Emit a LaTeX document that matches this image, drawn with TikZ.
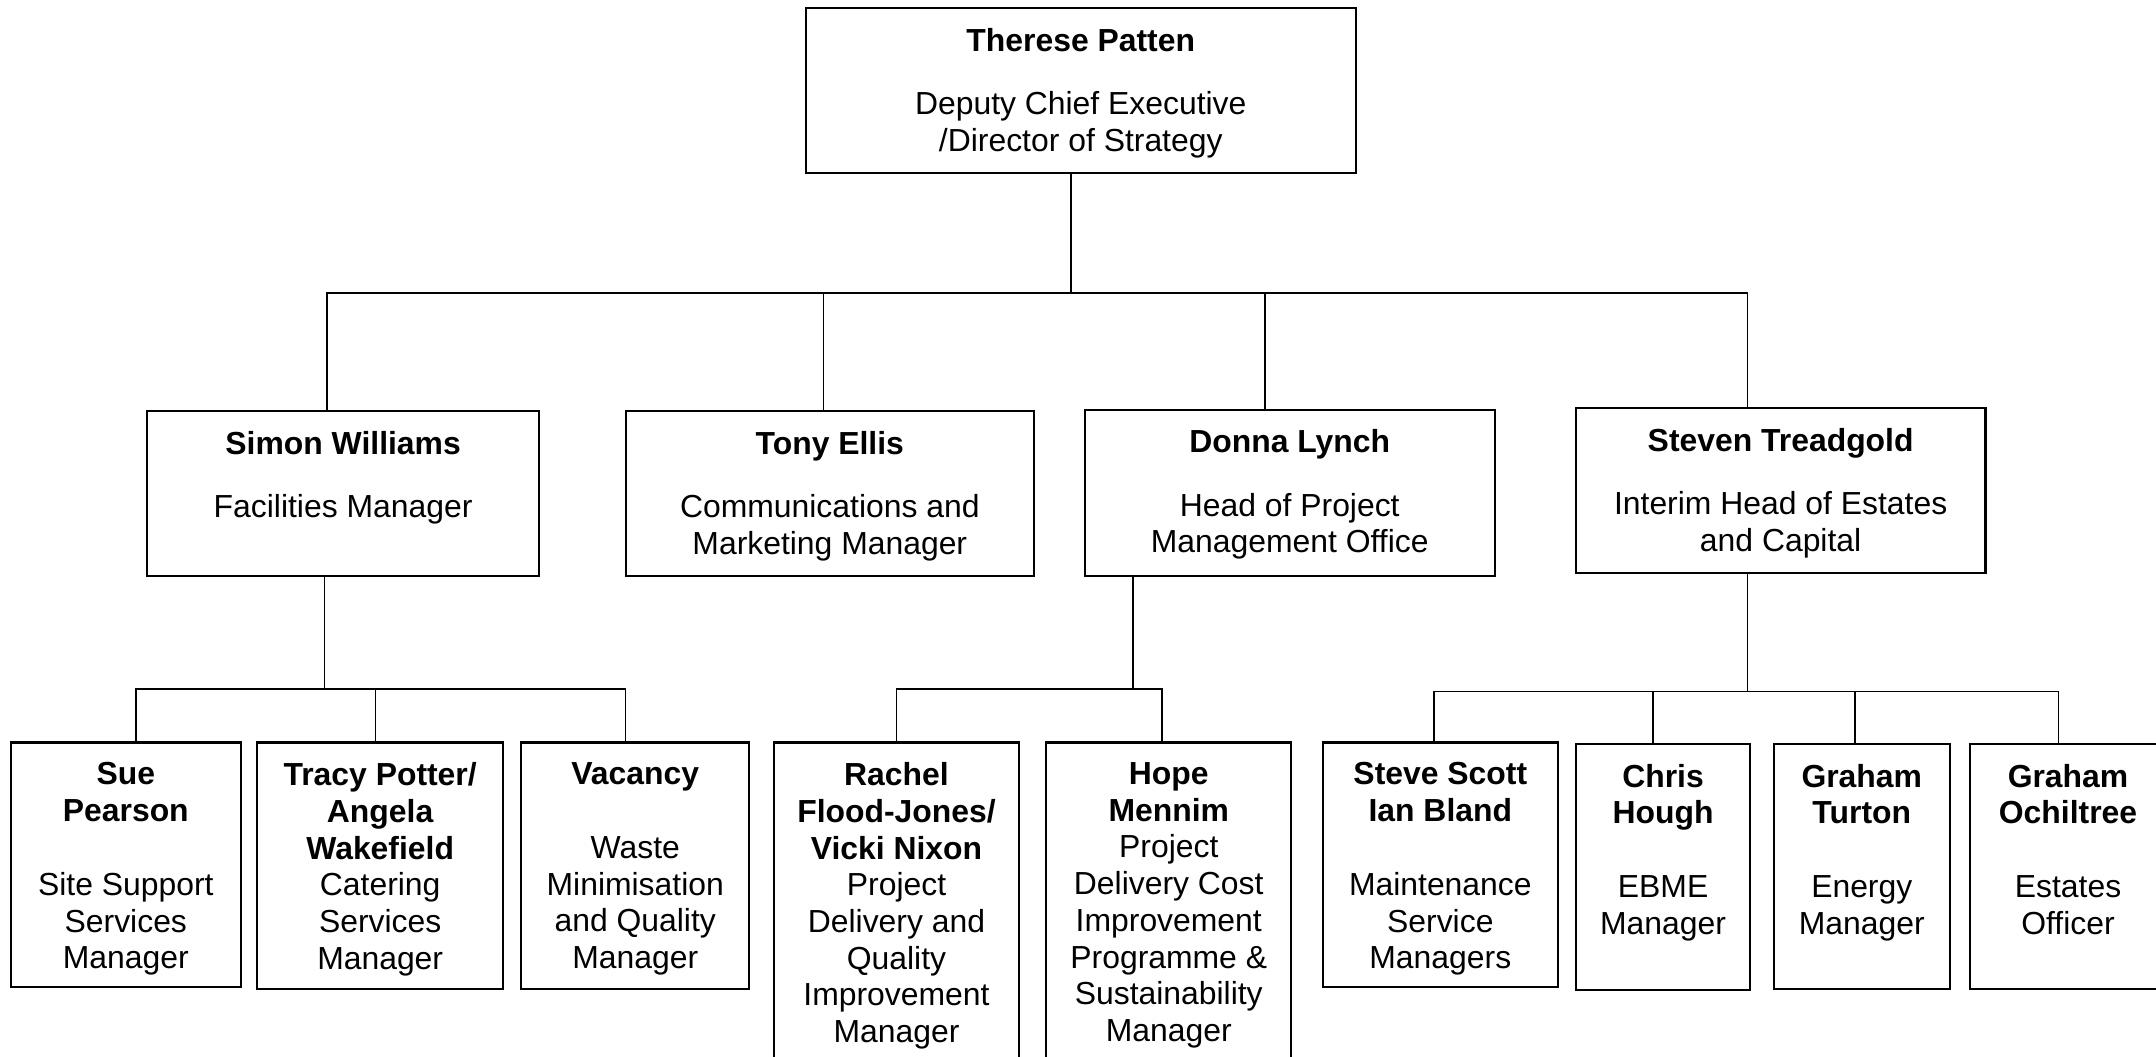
\documentclass[tikz,border=0pt]{standalone}
\usepackage{fontspec}
\setmainfont{Liberation Sans}
\usetikzlibrary{positioning,fit}

\tikzset{
  post/.style={draw,line width=0.9pt,inner sep=0pt},
  txt/.style={align=center,inner sep=0pt,font=\fontsize{13.2}{15.2}\selectfont},
  link/.style={line width=0.7pt}
}

\begin{document}
\begin{tikzpicture}[x=0.02cm,y=-0.02cm]
  \clip (0,0) rectangle (1568,768);
  % boxes
  \node[post,fit={(586,6) (986,126)}] (patten) {};
  \node[post,fit={(107,299) (392,419)}] (simon) {};
  \node[post,fit={(455,299) (752,419)}] (tony) {};
  \node[post,fit={(789,298) (1087,419)}] (donna) {};
  \node[post,fit={(1146,297) (1444,417)}] (steven) {};
  \node[post,fit={(8,540) (175,718)}] (sue) {};
  \node[post,fit={(187,540) (366,719)}] (tracy) {};
  \node[post,fit={(379,540) (545,719)}] (vacancy) {};
  \node[post,fit={(563,540) (741,790)}] (rachel) {};
  \node[post,fit={(761,540) (939,790)}] (hope) {};
  \node[post,fit={(962,540) (1133,718)}] (scott) {};
  \node[post,fit={(1146,541) (1273,720)}] (hough) {};
  \node[post,fit={(1290,541) (1418,719)}] (turton) {};
  \node[post,fit={(1433,541) (1575,719)}] (ochiltree) {};

  % texts
  \node[txt,below=0.3cm of patten.north] (patten-t)
    {\textbf{Therese Patten}\\[11pt]Deputy Chief Executive\\/Director of Strategy};
  \node[txt,below=0.3cm of simon.north] (simon-t)
    {\textbf{Simon Williams}\\[11pt]Facilities Manager};
  \node[txt,below=0.3cm of tony.north] (tony-t)
    {\textbf{Tony Ellis}\\[11pt]Communications and\\Marketing Manager};
  \node[txt,below=0.3cm of donna.north] (donna-t)
    {\textbf{Donna Lynch}\\[11pt]Head of Project\\Management Office};
  \node[txt,below=0.3cm of steven.north] (steven-t)
    {\textbf{Steven Treadgold}\\[11pt]Interim Head of Estates\\and Capital};
  \node[txt,below=0.3cm of sue.north] (sue-t)
    {\textbf{Sue}\\\textbf{Pearson}\\[15.4pt]Site Support\\Services\\Manager};
  \node[txt,below=0.3cm of tracy.north] (tracy-t)
    {\textbf{Tracy Potter/}\\\textbf{Angela}\\\textbf{Wakefield}\\Catering\\Services\\Manager};
  \node[txt,below=0.3cm of vacancy.north] (vacancy-t)
    {\textbf{Vacancy}\\[15.4pt]Waste\\Minimisation\\and Quality\\Manager};
  \node[txt,below=0.3cm of rachel.north] (rachel-t)
    {\textbf{Rachel}\\\textbf{Flood-Jones/}\\\textbf{Vicki Nixon}\\Project\\Delivery and\\Quality\\Improvement\\Manager};
  \node[txt,below=0.3cm of hope.north] (hope-t)
    {\textbf{Hope}\\\textbf{Mennim}\\Project\\Delivery Cost\\Improvement\\Programme \&\\Sustainability\\Manager};
  \node[txt,below=0.3cm of scott.north] (scott-t)
    {\textbf{Steve Scott}\\\textbf{Ian Bland}\\[15.4pt]Maintenance\\Service\\Managers};
  \node[txt,below=0.3cm of hough.north] (hough-t)
    {\textbf{Chris}\\\textbf{Hough}\\[15.4pt]EBME\\Manager};
  \node[txt,below=0.3cm of turton.north] (turton-t)
    {\textbf{Graham}\\\textbf{Turton}\\[15.4pt]Energy\\Manager};
  \node[txt,below=0.3cm of ochiltree.north] (ochiltree-t)
    {\textbf{Graham}\\\textbf{Ochiltree}\\[15.4pt]Estates\\Officer};

  % junctions and drop points
  \coordinate (j0) at (779,213);
  \coordinate (j1) at (236,501);
  \coordinate (j2) at (824,501);
  \coordinate (j3) at (1271,503);
  \coordinate (simon-in) at (238,299);
  \coordinate (tony-in) at (599,299);
  \coordinate (donna-in) at (920,298);
  \coordinate (steven-in) at (1271,297);
  \coordinate (sue-in) at (99,540);
  \coordinate (tracy-in) at (273,540);
  \coordinate (vacancy-in) at (455,540);
  \coordinate (rachel-in) at (652,540);
  \coordinate (hope-in) at (845,540);
  \coordinate (scott-in) at (1043,540);
  \coordinate (hough-in) at (1202,541);
  \coordinate (turton-in) at (1349,541);
  \coordinate (ochiltree-in) at (1497,541);

  % connectors
  \draw[link] (j0 |- patten.south) -- (j0);
  \draw[link] (simon-in) |- (j0) -| (steven-in);
  \draw[link] (tony-in) -- (tony-in |- j0);
  \draw[link] (donna-in) -- (donna-in |- j0);

  \draw[link] (j1 |- simon.south) -- (j1);
  \draw[link] (sue-in) |- (j1) -| (vacancy-in);
  \draw[link] (tracy-in) -- (tracy-in |- j1);

  \draw[link] (j2 |- donna.south) -- (j2);
  \draw[link] (rachel-in) |- (j2) -| (hope-in);

  \draw[link] (j3 |- steven.south) -- (j3);
  \draw[link] (scott-in) |- (j3) -| (ochiltree-in);
  \draw[link] (hough-in) -- (hough-in |- j3);
  \draw[link] (turton-in) -- (turton-in |- j3);
\end{tikzpicture}
\end{document}
